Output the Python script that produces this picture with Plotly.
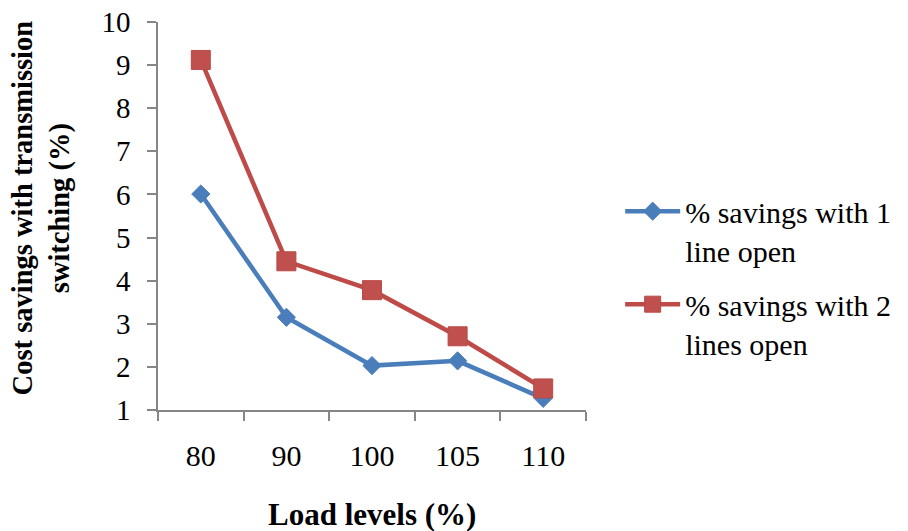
import plotly.graph_objects as go

load_levels = ["80", "90", "100", "105", "110"]
savings_1_line = [6.01, 3.15, 2.03, 2.14, 1.27]
savings_2_lines = [9.12, 4.45, 3.78, 2.71, 1.50]

FONT = "Liberation Serif, Times New Roman, serif"
AX = "#868686"

fig = go.Figure()
fig.add_trace(go.Scatter(
    x=load_levels, y=savings_1_line, mode="lines+markers",
    name="% savings with 1<br>line open", legendgroup="a",
    line=dict(color="#4A7EBB", width=4.5),
    marker=dict(symbol="diamond", size=14, color="#4A7EBB",
                line=dict(color="#4A7EBB", width=1)),
))
fig.add_trace(go.Scatter(
    x=load_levels, y=savings_2_lines, mode="lines+markers",
    name="% savings with 2<br>lines open", legendgroup="b",
    line=dict(color="#BE4B48", width=4.5),
    marker=dict(symbol="square", size=19, color="#C0504D",
                line=dict(color="#B84A47", width=1)),
))

fig.update_layout(
    template="none",
    width=908, height=531,
    margin=dict(l=158, r=322, t=22, b=121, pad=0, autoexpand=False),
    paper_bgcolor="white", plot_bgcolor="white",
    font=dict(family=FONT, color="black"),
    showlegend=True,
    legend=dict(xref="container", yref="container",
                x=0.683, y=0.478, xanchor="left", yanchor="middle",
                font=dict(family=FONT, size=30, color="black"),
                valign="top", itemwidth=55, tracegroupgap=12,
                traceorder="grouped", bgcolor="rgba(0,0,0,0)",
                borderwidth=0),
    xaxis=dict(type="category", range=[-0.5, len(load_levels) - 0.5],
               showgrid=False, zeroline=False, automargin=False,
               showline=True, linecolor=AX, linewidth=1.5,
               ticks="outside", ticklen=9, tickcolor=AX, tickwidth=1.5,
               tickson="boundaries", ticklabelstandoff=18,
               tickfont=dict(family=FONT, size=30, color="black")),
    yaxis=dict(range=[1, 10], dtick=1, showgrid=False, zeroline=False,
               automargin=False,
               showline=True, linecolor=AX, linewidth=1.5,
               ticks="outside", ticklen=9, tickcolor=AX, tickwidth=1.5,
               ticklabelstandoff=11,
               tickfont=dict(family=FONT, size=29, color="black")),
    annotations=[
        dict(text="<b>Load levels (%)</b>", xref="paper", yref="paper",
             x=0.5, y=-0.2705, xanchor="center", yanchor="middle",
             showarrow=False, font=dict(family=FONT, size=31, color="black")),
        dict(text="<b>Cost savings with transmission<br>switching (%)</b>",
             xref="paper", yref="paper", x=-0.273, y=0.52,
             xanchor="center", yanchor="middle", textangle=-90,
             showarrow=False, font=dict(family=FONT, size=28.5, color="black")),
    ],
)

fig.write_html(
    "out.html",
    config={"displayModeBar": False},
    post_script="document.body.style.margin='0';document.body.style.overflow='hidden';",
)
